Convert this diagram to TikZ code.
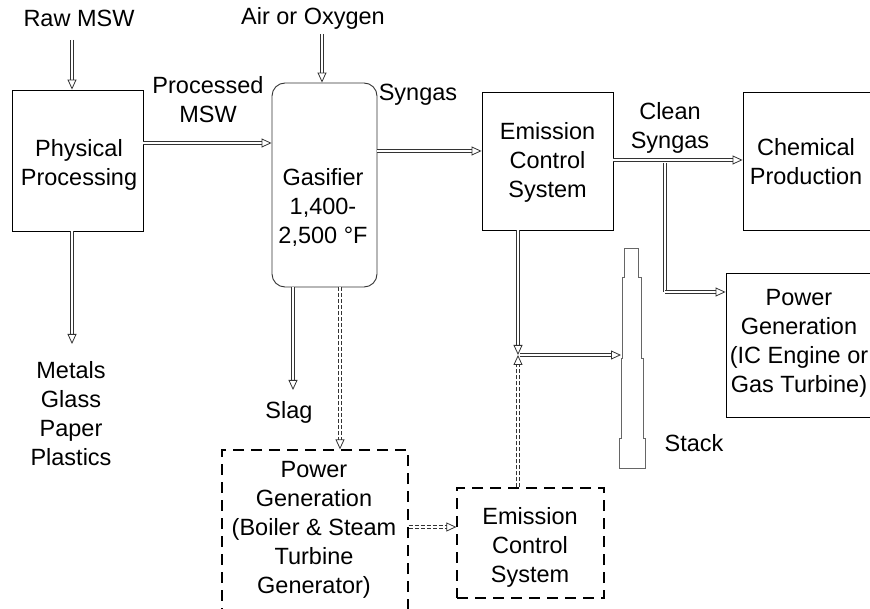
\documentclass[tikz,border=0pt]{standalone}
\usepackage{fontspec}
\setmainfont{Liberation Sans}
\usetikzlibrary{arrows.meta}
\tikzset{
  box/.style={draw=black, line width=0.9pt, inner sep=0pt, align=center},
  dbox/.style={draw=black, line width=1.3pt, dash pattern=on 11pt off 7pt, inner sep=0pt, align=center},
  txt/.style={inner sep=0pt, align=center, font=\fontsize{23.5}{29}\selectfont},
  flow/.style={draw=black!80, line width=0.8pt, double=white, double distance=2.4pt,
     -{Triangle[open,length=10pt,width=9pt,line width=0.8pt]}},
  dflow/.style={flow, dash pattern=on 4pt off 2pt},
  plain/.style={draw=black!80, line width=0.8pt, double=white, double distance=2.4pt},
}
\begin{document}
\begin{tikzpicture}[x=1pt,y=-1pt]
\useasboundingbox (0,0) rectangle (870,609);
\begin{scope}
\clip (0,0) rectangle (870,609);
% boxes
\node[box, minimum width=131pt, minimum height=141pt] (pp) at (77.5,160.5) {};
\node[txt] (ppt) at (79,165) {Physical\\Processing};
\node[box, draw=black!80, rounded corners=13pt, minimum width=105pt, minimum height=204pt] (gas) at (324.5,185) {};
\node[txt] (gast) at (323,207) {Gasifier\\1,400-\\2,500 °F};
\node[box, minimum width=131pt, minimum height=138pt] (ecs) at (547.5,161) {};
\node[txt] (ecst) at (547.5,162) {Emission\\Control\\System};
\node[box, minimum width=140pt, minimum height=138pt] (chem) at (813,161) {};
\node[txt] (chemt) at (806,162) {Chemical\\Production};
\node[box, minimum width=160pt, minimum height=144pt] (pgic) at (806,345) {};
\node[txt] (pgict) at (799,343) {Power\\Generation\\(IC Engine or\\Gas Turbine)};
\node[dbox, minimum width=186pt, minimum height=190pt] (pgb) at (315,545) {};
\node[txt] (pgbt) at (314,530) {Power\\Generation\\(Boiler \& Steam\\Turbine\\Generator)};
\node[dbox, minimum width=147pt, minimum height=110pt] (ecs2) at (530.5,543) {};
\node[txt] (ecs2t) at (530,547) {Emission\\Control\\System};
% labels
\node[txt] (raw) at (79,18) {Raw MSW};
\node[txt] (air) at (313,18) {Air or Oxygen};
\node[txt] (pmsw) at (208,100) {Processed\\MSW};
\node[txt] (syn) at (418,95) {Syngas};
\node[txt] (csyn) at (670,128) {Clean\\Syngas};
\node[txt] (mgpp) at (71,414) {Metals\\Glass\\Paper\\Plastics};
\node[txt] (slag) at (289,412) {Slag};
\node[txt] (stk) at (694,443) {Stack};
% stack
\draw[draw=black!60, line width=0.9pt] (624,248) -- (638,248) -- (638,277) -- (641,277) -- (641,358) -- (643,358) -- (643,438) -- (645,438) -- (645,468) -- (619,468) -- (619,438) -- (621,438) -- (621,358) -- (622,358) -- (622,277) -- (624,277) -- cycle;
\coordinate (stackin) at (621,355);
% coordinates
\coordinate (rawtop) at (72,40);
\coordinate (airtop) at (322,34);
\coordinate (mgtop) at (72,344);
\coordinate (slagtop) at (293,390);
\coordinate (brB) at (665,292);
\coordinate (jn) at (518,355);
% connectors
\draw[flow] (rawtop) -- (pp.north -| rawtop);
\draw[flow] (airtop) -- (gas.north -| airtop);
\draw[flow] (pp.east |- 0,143) -- (gas.west |- 0,143);
\draw[flow] (gas.east |- 0,151) -- (ecs.west |- 0,151);
\draw[flow] (ecs.east |- 0,160) -- (chem.west |- 0,160);
\draw[plain] (665,163) -- (brB);
\draw[flow] (brB) -- (pgic.west |- brB);
\draw[flow] (pp.south -| mgtop) -- (mgtop);
\draw[flow] (gas.south -| slagtop) -- (slagtop);
\draw[flow] (ecs.south -| jn) -- (jn);
\draw[flow] (520,355) -- (stackin);
\draw[dflow] (gas.south -| 340,0) -- (pgb.north -| 340,0);
\draw[dflow] (pgb.east |- 0,527) -- (ecs2.west |- 0,527);
\draw[dflow] (ecs2.north -| jn) -- (jn);
\end{scope}
\end{tikzpicture}
\end{document}
